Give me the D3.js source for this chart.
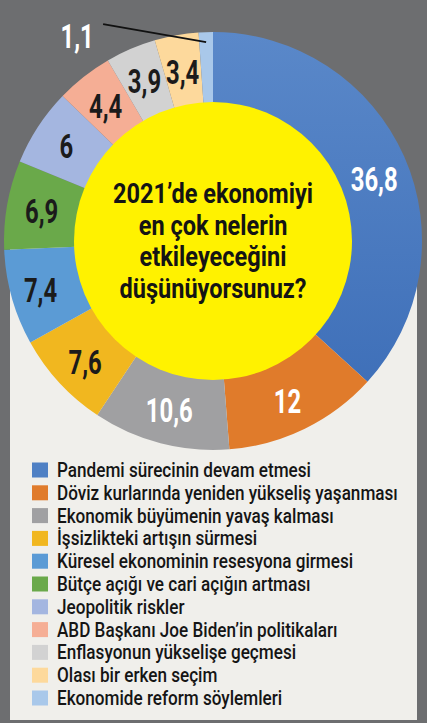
<!DOCTYPE html>
<html>
<head>
<meta charset="utf-8">
<script src="https://cdn.jsdelivr.net/npm/d3@7/dist/d3.min.js"></script>
<style>
  html, body { margin: 0; padding: 0; background: #6d6e70; }
  svg { display: block; }
  text { font-family: Roboto, "Noto Sans", sans-serif; }
</style>
</head>
<body>
<svg id="chart" width="427" height="723"></svg>
<script>
// ---- data ----
const categories = [
  "Pandemi sürecinin devam etmesi",
  "Döviz kurlarında yeniden yükseliş yaşanması",
  "Ekonomik büyümenin yavaş kalması",
  "İşsizlikteki artışın sürmesi",
  "Küresel ekonominin resesyona girmesi",
  "Bütçe açığı ve cari açığın artması",
  "Jeopolitik riskler",
  "ABD Başkanı Joe Biden’in politikaları",
  "Enflasyonun yükselişe geçmesi",
  "Olası bir erken seçim",
  "Ekonomide reform söylemleri"
];
const values = [36.8, 12, 10.6, 7.6, 7.4, 6.9, 6, 4.4, 3.9, 3.4, 1.1];
const valueLabels = ["36,8", "12", "10,6", "7,6", "7,4", "6,9", "6", "4,4", "3,9", "3,4", "1,1"];
const colors = ["#4f80c4", "#e07b2b", "#a0a0a2", "#f1b71f", "#5b9bd5", "#6aa94a",
                "#a4b6e0", "#f5ae95", "#d2d2d2", "#fdd99c", "#a9c8ea"];
const labelColors = ["#ffffff", "#ffffff", "#ffffff", "#1b1b1b", "#1b1b1b", "#1b1b1b",
                     "#1b1b1b", "#1b1b1b", "#1b1b1b", "#1b1b1b", "#ffffff"];
const centerLines = ["2021’de ekonomiyi", "en çok nelerin", "etkileyeceğini", "düşünüyorsunuz?"];

// ---- layout ----
const cx = 213, cy = 241, R = 209, r0 = 139;
const svg = d3.select("#chart");

// measure helper for condensing text to the narrow newspaper face
function measure(str, size, weight) {
  const t = svg.append("text").attr("font-size", size).attr("font-weight", weight).text(str);
  const w = t.node().getComputedTextLength();
  t.remove();
  return w;
}
const labSize = 34, cenSize = 27, legSize = 19.5;
const sLab = 47 / measure("36,8", labSize, 700);
const sCen = 200 / measure(centerLines[0], cenSize, 700);
const sLeg = 341 / measure(categories[1], legSize, 500);

// light panel
svg.append("rect").attr("x", 10).attr("y", 240).attr("width", 407).attr("height", 480)
  .attr("fill", "#f0efeb");

const defs = svg.append("defs");
const grad = defs.append("linearGradient").attr("id", "blueGrad")
  .attr("x1", 0).attr("y1", 0).attr("x2", 0).attr("y2", 1);
grad.append("stop").attr("offset", "0%").attr("stop-color", "#5a88c9");
grad.append("stop").attr("offset", "100%").attr("stop-color", "#3f70b9");

const g = svg.append("g").attr("transform", `translate(${cx},${cy})`);

const pie = d3.pie().sort(null).value(d => d).startAngle(0).endAngle(2 * Math.PI);
const arcs = pie(values);
const arc = d3.arc().innerRadius(r0 - 2).outerRadius(R);
const labelArc = d3.arc().innerRadius(174).outerRadius(174);

g.selectAll("path.slice").data(arcs).enter().append("path")
  .attr("class", "slice")
  .attr("d", arc)
  .attr("fill", (d, i) => i === 0 ? "url(#blueGrad)" : colors[i]);

// yellow center
g.append("circle").attr("r", r0).attr("fill", "#fff200");

// slice labels (all but the smallest, which sits outside)
const nudge = [[2, 8], [-2, 3], [0, 0], [0, 3], [-5, 2], [0, 0], [-1, 0], [0, 2], [0, 0], [0, 2]];
const inside = arcs.slice(0, values.length - 1);
g.selectAll("text.val").data(inside).enter().append("text")
  .attr("class", "val")
  .attr("transform", (d, i) => {
    const c = labelArc.centroid(d);
    return `translate(${c[0] + nudge[i][0]},${c[1] + nudge[i][1]}) scale(${sLab},1)`;
  })
  .attr("text-anchor", "middle")
  .attr("dy", "0.36em")
  .attr("font-size", labSize)
  .attr("font-weight", 700)
  .attr("fill", (d, i) => labelColors[i])
  .text((d, i) => valueLabels[i]);

// outside label for smallest slice with leader line
const lastIdx = values.length - 1;
const last = arcs[lastIdx];
const mid = (last.startAngle + last.endAngle) / 2;
const pEnd = [Math.sin(mid) * 199, -Math.cos(mid) * 199];
const pStart = [pEnd[0] - 103, pEnd[1] - 18];
g.append("line")
  .attr("x1", pStart[0]).attr("y1", pStart[1])
  .attr("x2", pEnd[0]).attr("y2", pEnd[1])
  .attr("stroke", "#111").attr("stroke-width", 2);
g.append("text")
  .attr("transform", `translate(${pStart[0] - 26},${pStart[1] + 24}) scale(${sLab},1)`)
  .attr("text-anchor", "middle")
  .attr("font-size", labSize).attr("font-weight", 700)
  .attr("fill", labelColors[lastIdx])
  .text(valueLabels[lastIdx]);

// center question
g.selectAll("text.q").data(centerLines).enter().append("text")
  .attr("class", "q")
  .attr("transform", (d, i) => `translate(0,${-38 + i * 31.7}) scale(${sCen},1)`)
  .attr("text-anchor", "middle")
  .attr("font-size", cenSize)
  .attr("font-weight", 700)
  .attr("fill", "#141414")
  .text(d => d);

// legend
const leg = svg.append("g").attr("transform", "translate(32,470)");
const rows = leg.selectAll("g.row").data(categories).enter().append("g")
  .attr("class", "row")
  .attr("transform", (d, i) => `translate(0,${i * 22.8})`);
rows.append("rect").attr("x", 0).attr("y", -7.5).attr("width", 16).attr("height", 15)
  .attr("fill", (d, i) => colors[i]);
rows.append("text")
  .attr("transform", `translate(25,0) scale(${sLeg},1)`)
  .attr("dy", "0.36em")
  .attr("font-size", legSize)
  .attr("font-weight", 500)
  .attr("fill", "#151515")
  .text(d => d);
</script>
</body>
</html>
